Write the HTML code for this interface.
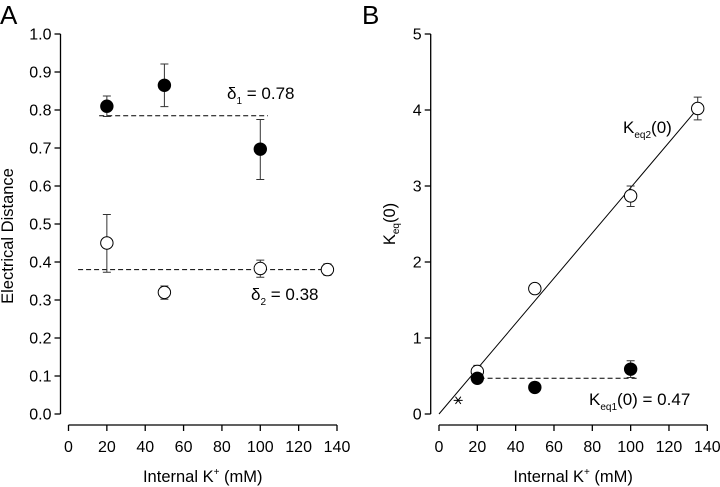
<!DOCTYPE html>
<html><head><meta charset="utf-8"><style>
html,body{margin:0;padding:0;background:#fff;}
svg{display:block;font-family:"Liberation Sans",Arial,sans-serif;}
</style></head><body>
<svg id="fig" width="720" height="487" viewBox="0 0 720 487"></svg>
<script>
// Panel A data
const aFilledX=[20,50,100];
const aFilledY=[0.81,0.865,0.697];
const aFilledHi=[0.837,0.921,0.775];
const aFilledLo=[0.783,0.809,0.617];
const aOpenX=[20,50,100,135];
const aOpenY=[0.45,0.32,0.383,0.38];
const aOpenHi=[0.525,0.337,0.405,0.395];
const aOpenLo=[0.373,0.302,0.36,0.365];
const aFit1=[16,104,0.785];
const aFit2=[5,135,0.38];
const aYTicks=["0.0","0.1","0.2","0.3","0.4","0.5","0.6","0.7","0.8","0.9","1.0"];
const xTicks=[0,20,40,60,80,100,120,140];
// Panel B data
const bOpenX=[20,50,100,135];
const bOpenY=[0.56,1.65,2.87,4.02];
const bOpenHi=[0.64,1.70,3.0,4.17];
const bOpenLo=[0.50,1.60,2.73,3.87];
const bFilledX=[20,50,100];
const bFilledY=[0.47,0.35,0.59];
const bFilledHi=[0.52,0.38,0.70];
const bFilledLo=[0.43,0.32,0.48];
const bStarX=[10];const bStarY=[0.18];
const bLine=[0,0,135,4.02];
const bFit1=[17,104,0.47];
const bYTicks=["0","1","2","3","4","5"];

const svg=document.getElementById('fig');
const NS='http://www.w3.org/2000/svg';
function mk(tag,attrs,parent){const e=document.createElementNS(NS,tag);for(const k in attrs)e.setAttribute(k,attrs[k]);(parent||svg).appendChild(e);return e;}

function panel(o){
  const g=mk('g',{});
  
  
  const sx=v=>o.x0+(v-0)/140*(o.x1-o.x0);
  const sy=v=>o.yb+(v/o.ymax)*(o.yt-o.yb);
  const ya=mk('line',{x1:o.ax,y1:o.yt,x2:o.ax,y2:o.yb,stroke:'#000','stroke-width':1.3},g);
  
  o.yTicks.forEach((t,i)=>{const v=i*o.ymax/(o.yTicks.length-1);const y=sy(v);
    mk('line',{x1:o.ax-6,y1:y,x2:o.ax,y2:y,stroke:'#000','stroke-width':1.3},g);
    const tx=mk('text',{x:o.ax-9,y:y+5.5,'text-anchor':'end','font-size':16},g);tx.textContent=t;
    });
  const xa=mk('line',{x1:o.x0,y1:425,x2:o.x1,y2:425,stroke:'#000','stroke-width':1.3},g);
  
  xTicks.forEach(t=>{const x=sx(t);
    mk('line',{x1:x,y1:425,x2:x,y2:431,stroke:'#000','stroke-width':1.3},g);
    const tx=mk('text',{x:x,y:452,'text-anchor':'middle','font-size':16},g);tx.textContent=t;
    });
  const xt=mk('text',{x:(o.x0+o.x1)/2,y:482,'text-anchor':'middle','font-size':16.5},g);
  xt.innerHTML='Internal K<tspan dy="-7" font-size="10">+</tspan><tspan dy="7"> (mM)</tspan>';
  
  return {g,sx,sy};
}
function errs(p,X,Y,H,L,filled,name){
  X.forEach((xv,i)=>{const x=p.sx(xv);
    const e=mk('path',{d:`M${x},${p.sy(H[i])}V${p.sy(L[i])}M${x-4},${p.sy(H[i])}H${x+4}M${x-4},${p.sy(L[i])}H${x+4}`,stroke:'#333','stroke-width':1,fill:'none'},p.g);
    
    const c=mk('circle',{cx:x,cy:p.sy(Y[i]),r:6.2,fill:filled?'#000':'#fff',stroke:'#000','stroke-width':1},p.g);
    });
}
function dash(p,f,name){const l=mk('line',{x1:p.sx(f[0]),x2:p.sx(f[1]),y1:p.sy(f[2]),y2:p.sy(f[2]),stroke:'#000','stroke-width':1,'stroke-dasharray':'5,3'},p.g);
  }

// Panel A
const A=panel({name:'panel-a',ax:60.5,x0:68.5,x1:337,yt:34,yb:414,ymax:1,yTicks:aYTicks});
dash(A,aFit1,'delta1-fit-line');dash(A,aFit2,'delta2-fit-line');
errs(A,aFilledX,aFilledY,aFilledHi,aFilledLo,true,'delta1');
errs(A,aOpenX,aOpenY,aOpenHi,aOpenLo,false,'delta2');
let t=mk('text',{x:0,y:24,'font-size':26},A.g);t.textContent='A';
t=mk('text',{x:13,y:236,'text-anchor':'middle','font-size':16.5,transform:'rotate(-90 13 236)'},A.g);t.textContent='Electrical Distance';
t=mk('text',{x:227,y:99,'font-size':17},A.g);t.innerHTML='δ<tspan dy="5" font-size="10">1</tspan><tspan dy="-5"> = 0.78</tspan>';
t=mk('text',{x:251,y:300,'font-size':17},A.g);t.innerHTML='δ<tspan dy="5" font-size="10">2</tspan><tspan dy="-5"> = 0.38</tspan>';

// Panel B
const B=panel({name:'panel-b',ax:430.7,x0:439,x1:707.3,yt:34,yb:414,ymax:5,yTicks:bYTicks});
let ln=mk('line',{x1:B.sx(bLine[0]),y1:B.sy(bLine[1]),x2:B.sx(bLine[2]),y2:B.sy(bLine[3]),stroke:'#000','stroke-width':1},B.g);

dash(B,bFit1,'keq1-fit-line');
errs(B,bOpenX,bOpenY,bOpenHi,bOpenLo,false,'keq2');
errs(B,bFilledX,bFilledY,bFilledHi,bFilledLo,true,'keq1');
bStarX.forEach((xv,i)=>{const x=B.sx(xv),y=B.sy(bStarY[i]),r=4.5;
  const s=mk('path',{d:`M${x-r},${y}H${x+r}M${x-r*.6},${y-r*.8}L${x+r*.6},${y+r*.8}M${x-r*.6},${y+r*.8}L${x+r*.6},${y-r*.8}`,stroke:'#000','stroke-width':1},B.g);
  });
t=mk('text',{x:362,y:24,'font-size':26},B.g);t.textContent='B';
t=mk('text',{x:395,y:224,'text-anchor':'middle','font-size':16.5,transform:'rotate(-90 395 224)'},B.g);t.innerHTML='K<tspan dy="4" font-size="10">eq</tspan><tspan dy="-4">(0)</tspan>';
t=mk('text',{x:623,y:133,'font-size':17},B.g);t.innerHTML='K<tspan dy="5" font-size="10">eq2</tspan><tspan dy="-5">(0)</tspan>';
t=mk('text',{x:589,y:405,'font-size':17},B.g);t.innerHTML='K<tspan dy="5" font-size="10">eq1</tspan><tspan dy="-5">(0) = 0.47</tspan>';
</script>
</body></html>
